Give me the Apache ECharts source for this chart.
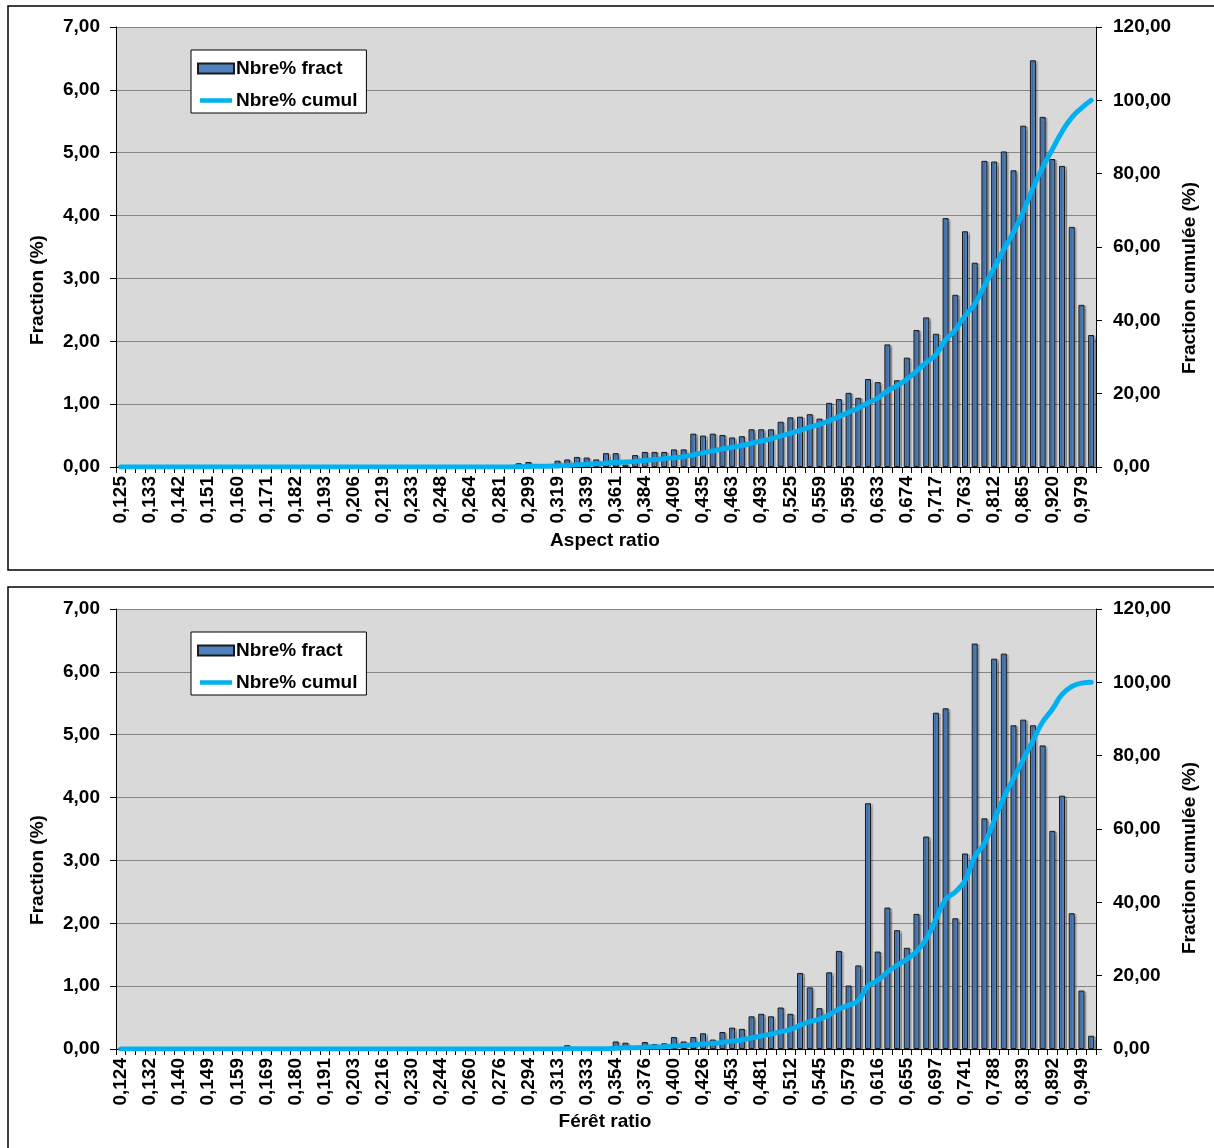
<!DOCTYPE html>
<html>
<head>
<meta charset="utf-8">
<script src="https://cdn.jsdelivr.net/npm/echarts@6/dist/echarts.min.js"></script>
<style>
html,body{margin:0;padding:0;background:#fff;}
#chart{width:1214px;height:1148px;}
</style>
</head>
<body>
<div id="chart"></div>
<script>
// ---------- DATA ----------
const catsAspect = [
'0,125','0,128','0,130','0,133','0,136','0,139','0,142','0,145','0,148','0,151',
'0,154','0,157','0,160','0,164','0,167','0,171','0,174','0,178','0,182','0,186',
'0,189','0,193','0,198','0,202','0,206','0,210','0,215','0,219','0,224','0,228',
'0,233','0,238','0,243','0,248','0,253','0,259','0,264','0,270','0,275','0,281',
'0,287','0,293','0,299','0,306','0,312','0,319','0,325','0,332','0,339','0,346',
'0,354','0,361','0,369','0,376','0,384','0,392','0,401','0,409','0,418','0,426',
'0,435','0,444','0,454','0,463','0,473','0,483','0,493','0,503','0,514','0,525',
'0,536','0,547','0,559','0,570','0,582','0,595','0,607','0,620','0,633','0,646',
'0,660','0,674','0,688','0,702','0,717','0,732','0,747','0,763','0,779','0,796',
'0,812','0,829','0,847','0,865','0,883','0,901','0,920','0,940','0,959','0,979',
'1,000'];

const fractAspect = [
0,0,0,0,0,0,0,0,0,0,
0,0,0,0,0,0,0,0,0,0,
0,0,0,0,0,0,0,0,0,0,
0,0,0.02,0,0,0,0,0,0,0,
0,0.06,0.08,0.02,0.02,0.10,0.12,0.16,0.15,0.12,
0.22,0.22,0.04,0.19,0.24,0.24,0.24,0.28,0.28,0.53,
0.50,0.53,0.51,0.47,0.49,0.60,0.60,0.60,0.72,0.79,
0.80,0.84,0.77,1.02,1.08,1.18,1.10,1.40,1.35,1.95,
1.38,1.74,2.18,2.38,2.12,3.96,2.74,3.75,3.25,4.87,
4.86,5.02,4.72,5.43,6.47,5.57,4.90,4.79,3.82,2.58,
2.10];

const cumulAspect = [
0,0,0,0,0,0,0,0,0,0,
0,0,0,0,0,0,0,0,0,0,
0,0,0,0,0,0,0,0,0,0,
0,0,0.02,0.02,0.02,0.02,0.02,0.02,0.02,0.02,
0.02,0.08,0.16,0.18,0.20,0.30,0.42,0.58,0.74,0.86,
1.08,1.30,1.34,1.53,1.77,2.02,2.26,2.54,2.82,3.35,
3.86,4.39,4.91,5.38,5.87,6.48,7.08,7.69,8.41,9.21,
10.01,10.86,11.64,12.66,13.75,14.94,16.05,17.46,18.82,20.78,
22.17,23.93,26.12,28.52,30.66,34.65,37.41,41.19,44.46,49.37,
54.26,59.32,64.08,69.55,76.07,81.68,86.61,91.44,95.29,97.89,
100.00];

const catsFeret = [
'0,124','0,127','0,129','0,132','0,135','0,137','0,140','0,143','0,146','0,149',
'0,152','0,155','0,159','0,162','0,165','0,169','0,173','0,176','0,180','0,184',
'0,187','0,191','0,195','0,199','0,203','0,207','0,212','0,216','0,221','0,225',
'0,230','0,235','0,239','0,244','0,249','0,255','0,260','0,265','0,271','0,276',
'0,282','0,288','0,294','0,300','0,306','0,313','0,319','0,326','0,333','0,340',
'0,347','0,354','0,361','0,369','0,376','0,384','0,392','0,400','0,408','0,417',
'0,426','0,435','0,444','0,453','0,462','0,472','0,481','0,491','0,501','0,512',
'0,523','0,534','0,545','0,556','0,567','0,579','0,591','0,603','0,616','0,629',
'0,642','0,655','0,669','0,683','0,697','0,711','0,726','0,741','0,757','0,772',
'0,788','0,805','0,822','0,839','0,856','0,874','0,892','0,911','0,930','0,949',
'0,969'];

const fractFeret = [
0,0,0,0,0,0,0,0,0,0,
0,0,0,0,0,0,0,0,0,0,
0,0,0,0,0,0,0,0,0,0,
0,0,0,0,0,0,0,0,0,0,
0,0,0,0,0,0,0.06,0.02,0,0,
0.02,0.12,0.10,0.04,0.11,0.08,0.09,0.19,0.12,0.19,
0.25,0.15,0.27,0.34,0.32,0.52,0.56,0.52,0.66,0.56,
1.21,0.98,0.65,1.22,1.56,1.01,1.33,3.91,1.55,2.25,
1.89,1.61,2.15,3.38,5.35,5.42,2.08,3.11,6.45,3.67,
6.21,6.29,5.15,5.24,5.15,4.83,3.47,4.03,2.16,0.93,
0.21];

const cumulFeret = [
0,0,0,0,0,0,0,0,0,0,
0,0,0,0,0,0,0,0,0,0,
0,0,0,0,0,0,0,0,0,0,
0,0,0,0,0,0,0,0,0,0,
0,0,0,0,0,0,0.06,0.08,0.08,0.08,
0.10,0.22,0.32,0.36,0.47,0.55,0.64,0.83,0.95,1.14,
1.39,1.54,1.81,2.15,2.47,2.99,3.55,4.07,4.73,5.29,
6.50,7.48,8.13,9.35,10.91,11.92,13.25,17.16,18.71,20.96,
22.85,24.46,26.61,29.99,35.34,40.76,42.84,45.95,52.40,56.07,
62.28,68.57,73.72,78.96,84.11,89.17,92.65,96.69,98.86,99.79,
100.00];

const seriesNames = ['Nbre% fract', 'Nbre% cumul'];
const xTitles = ['Aspect ratio', 'Férêt ratio'];
const yLeftTitle = 'Fraction (%)';
const yRightTitle = 'Fraction cumulée (%)';

// ---------- STYLE ----------
const FONT = '"Liberation Sans", Arial, sans-serif';
const TXT = {fontFamily: FONT, fontWeight: 'bold', fontSize: 19, color: '#000'};
const fmt2 = v => v.toFixed(2).replace('.', ',');
const BAR = '#4F81BD', LINE = '#00B0F0';

const panels = [
  {top: 27, cats: catsAspect, fract: fractAspect, cumul: cumulAspect},
  {top: 609, cats: catsFeret, fract: fractFeret, cumul: cumulFeret}
];
const PL = 116, PW = 980, PH = 440;

const grid = panels.map(p => ({
  left: PL, top: p.top, width: PW, height: PH,
  show: true, backgroundColor: '#D9D9D9', borderWidth: 0,
  containLabel: false, outerBoundsMode: 'none'
}));

const xAxis = panels.map((p, i) => ({
  type: 'category', gridIndex: i, data: p.cats, boundaryGap: true,
  axisLine: {show: true, onZero: false, lineStyle: {color: '#000', width: 1}},
  axisTick: {show: true, interval: 0, length: 6, lineStyle: {color: '#000', width: 1}},
  axisLabel: Object.assign({interval: 2, rotate: 90, margin: 9}, TXT),
  splitLine: {show: false}
}));

const yAxis = [];
panels.forEach((p, i) => {
  yAxis.push({
    type: 'value', gridIndex: i, position: 'left', min: 0, max: 7, interval: 1,
    axisLine: {show: true, lineStyle: {color: '#000', width: 1}},
    axisTick: {show: true, length: 6, lineStyle: {color: '#000', width: 1}},
    axisLabel: Object.assign({formatter: fmt2, margin: 16}, TXT),
    splitLine: {show: true, lineStyle: {color: '#868686', width: 1}}
  });
  yAxis.push({
    type: 'value', gridIndex: i, position: 'right', min: 0, max: 120, interval: 20,
    axisLine: {show: true, lineStyle: {color: '#000', width: 1}},
    axisTick: {show: true, length: 6, lineStyle: {color: '#000', width: 1}},
    axisLabel: Object.assign({formatter: fmt2, margin: 17}, TXT),
    splitLine: {show: false}
  });
});

const series = [];
panels.forEach((p, i) => {
  series.push({
    type: 'bar', name: seriesNames[0], xAxisIndex: i, yAxisIndex: i * 2,
    data: p.fract, barWidth: 6,
    itemStyle: {color: BAR, borderColor: '#1a1a1a', borderWidth: 1,
      shadowColor: 'rgba(0,0,0,0.25)', shadowOffsetX: 2, shadowOffsetY: 1, shadowBlur: 1}
  });
  series.push({
    type: 'line', name: seriesNames[1], xAxisIndex: i, yAxisIndex: i * 2 + 1,
    data: p.cumul, smooth: true, symbol: 'none', showSymbol: false,
    lineStyle: {color: LINE, width: 5, cap: 'round', join: 'round'}, itemStyle: {color: LINE}, z: 5
  });
});

const LINE_ICON = 'path://M0,0 M38,10 M2,2.5 L36,2.5 L36,7.5 L2,7.5 Z';
const legend = panels.map((p, i) => ({
  orient: 'vertical', left: 191, top: p.top + 23,
  backgroundColor: '#fff', borderColor: '#000', borderWidth: 1, borderRadius: 0,
  padding: [9, 9, 3, 6], itemGap: 13, itemWidth: 36, itemHeight: 10,
  selectedMode: false, symbolKeepAspect: true,
  textStyle: Object.assign({padding: [0, 0, 0, -3]}, TXT),
  data: [{name: seriesNames[0], icon: 'rect'}, {name: seriesNames[1], icon: LINE_ICON}]
}));

const graphic = [
  {type: 'rect', shape: {x: 8, y: 6, width: 1240, height: 564}, style: {fill: 'none', stroke: '#000', lineWidth: 1.5}, silent: true},
  {type: 'rect', shape: {x: 8, y: 587, width: 1240, height: 620}, style: {fill: 'none', stroke: '#000', lineWidth: 1.5}, silent: true},
  {type: 'text', x: 38, y: 290, rotation: Math.PI / 2, style: {text: yLeftTitle, align: 'center', verticalAlign: 'middle', fill: '#000', font: 'bold 19px ' + FONT}},
  {type: 'text', x: 1190, y: 278, rotation: Math.PI / 2, style: {text: yRightTitle, align: 'center', verticalAlign: 'middle', fill: '#000', font: 'bold 19px ' + FONT}},
  {type: 'text', x: 605, y: 541, style: {text: xTitles[0], align: 'center', verticalAlign: 'middle', fill: '#000', font: 'bold 19px ' + FONT}},
  {type: 'text', x: 38, y: 870, rotation: Math.PI / 2, style: {text: yLeftTitle, align: 'center', verticalAlign: 'middle', fill: '#000', font: 'bold 19px ' + FONT}},
  {type: 'text', x: 1190, y: 858, rotation: Math.PI / 2, style: {text: yRightTitle, align: 'center', verticalAlign: 'middle', fill: '#000', font: 'bold 19px ' + FONT}},
  {type: 'text', x: 605, y: 1122, style: {text: xTitles[1], align: 'center', verticalAlign: 'middle', fill: '#000', font: 'bold 19px ' + FONT}}
];

const chart = echarts.init(document.getElementById('chart'), null, {renderer: 'canvas'});
chart.setOption({
  animation: false,
  backgroundColor: '#fff',
  grid, xAxis, yAxis, series, legend, graphic
});
</script>
</body>
</html>
